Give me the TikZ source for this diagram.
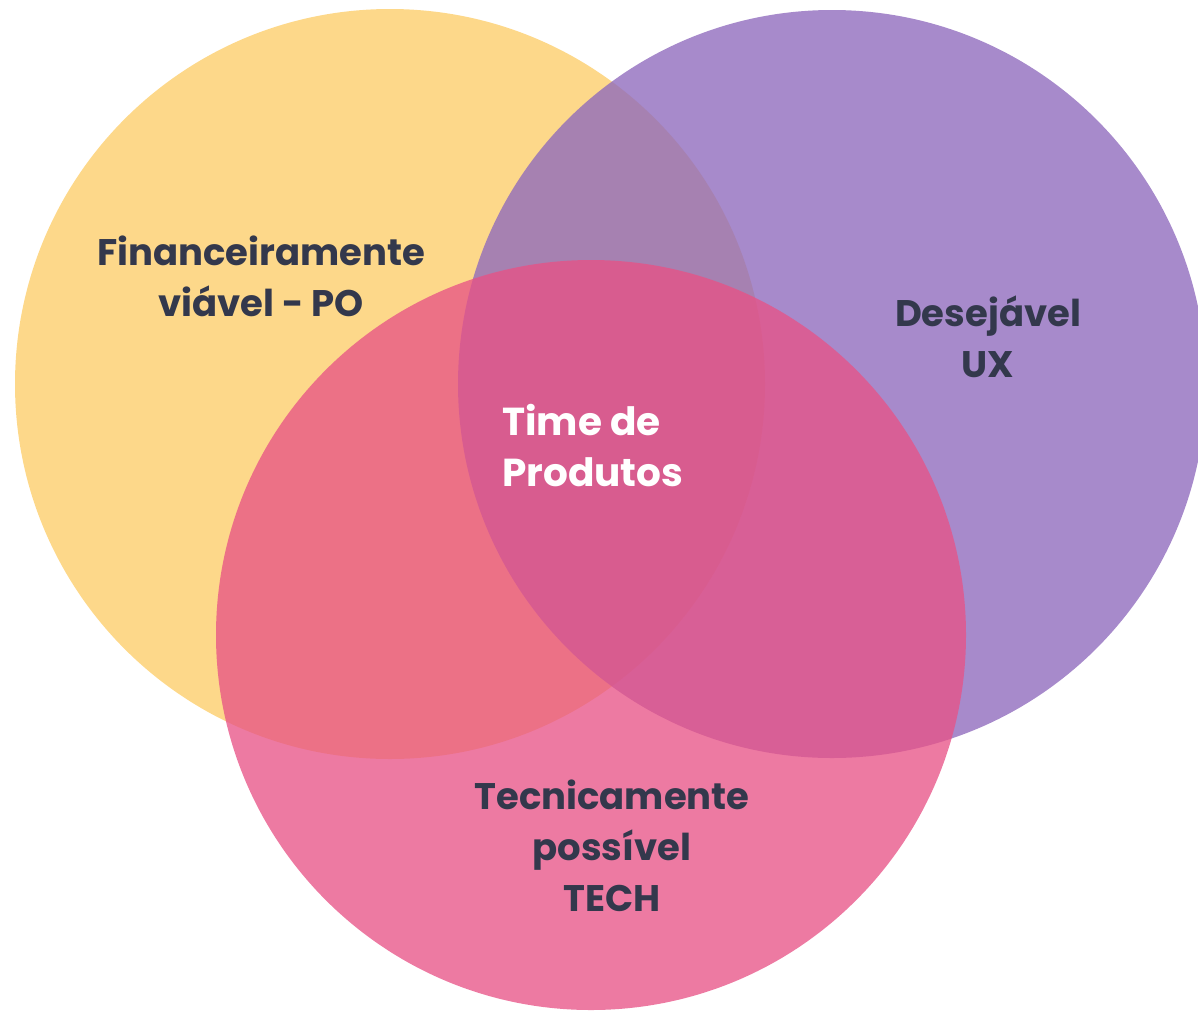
\documentclass[tikz,border=0pt]{standalone}
\usepackage{fontspec}
\setmainfont{Poppins}
\begin{document}
\begin{tikzpicture}[x=1pt,y=-1pt]
\definecolor{yel}{RGB}{253,216,138}
\definecolor{pur}{RGB}{142,105,188}
\definecolor{pnk}{RGB}{232,82,134}
\definecolor{txt}{RGB}{51,56,76}
\tikzset{
  lbl/.style={font=\fontsize{37}{51}\selectfont\bfseries, text=txt, align=center, inner sep=0pt},
  wlbl/.style={font=\fontsize{39}{51}\selectfont\bfseries, text=white, align=left, inner sep=0pt}
}
\useasboundingbox (0,0) rectangle (1198,1010);
\clip (0,0) rectangle (1198,1010);
\fill[yel] (390,384) circle[radius=375];
\fill[pur, fill opacity=0.78] (832,384) circle[radius=374];
\fill[pnk, fill opacity=0.77] (591,635) circle[radius=375];
\node[lbl] (po) at (261,276) {Financeiramente\\viável - PO};
\node[lbl] (ux) at (988,337) {Desejável\\UX};
\node[wlbl, anchor=west] (tp) at (502,446) {Time de\\Produtos};
\node[lbl] (tech) at (612,846) {Tecnicamente\\possível\\TECH};
\end{tikzpicture}
\end{document}
